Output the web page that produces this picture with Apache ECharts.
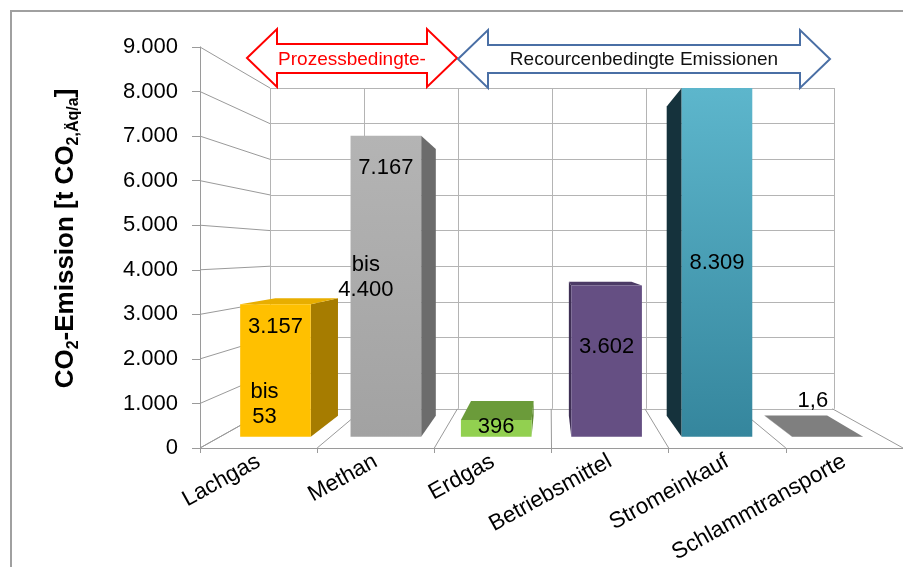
<!DOCTYPE html>
<html>
<head>
<meta charset="utf-8">
<script src="https://cdn.jsdelivr.net/npm/echarts@6/dist/echarts.min.js"></script>
<style>
  html, body { margin: 0; padding: 0; background: #fff; }
  #chart { width: 903px; height: 567px; }
</style>
</head>
<body>
<div id="chart"></div>
<script>
// ---- data ----
const categories = ['Lachgas', 'Methan', 'Erdgas', 'Betriebsmittel', 'Stromeinkauf', 'Schlammtransporte'];
const emissions = [3157, 7167, 396, 3602, 8309, 1.6];
const lowerBounds = [53, 4400, null, null, null, null];
const groupLabels = ['Prozessbedingte-', 'Recourcenbedingte Emissionen'];
const yMax = 9000;
const yStep = 1000;

// ---- layout / perspective ----
const FONT = '"Liberation Sans", Arial, sans-serif';
const FRONT = { left: 200, top: 47, width: 705, height: 401 };
const VP = [550, 252];          // vanishing point
const BACK_S = 0.8;             // scale of the back wall relative to the front plane
const BAR_FRONT = 0.29;         // depth of bar front faces (0 = front, 1 = back wall)
const BAR_BACK = 0.825;         // depth of bar back faces
const BAR_W = 0.64;             // bar width as a share of the category band

const BACK = {
  left: VP[0] + (FRONT.left - VP[0]) * BACK_S,
  top: VP[1] + (FRONT.top - VP[1]) * BACK_S,
  width: FRONT.width * BACK_S,
  height: FRONT.height * BACK_S
};

function proj(p, u) {
  const s = 1 - (1 - BACK_S) * u;
  return [VP[0] + (p[0] - VP[0]) * s, VP[1] + (p[1] - VP[1]) * s];
}

const BAR_STYLE = [
  { front: '#FFC000', side: '#A67C00', top: '#E8AE00' },
  { front: { type: 'linear', x: 0, y: 0, x2: 0, y2: 1, colorStops: [{ offset: 0, color: '#B4B4B4' }, { offset: 1, color: '#A2A2A2' }] }, side: '#6C6C6C', top: '#8E8E8E' },
  { front: '#92D050', side: '#5F8A30', top: '#6B9B3A' },
  { front: '#654F83', side: '#3E2F54', top: '#4C3B66' },
  { front: { type: 'linear', x: 0, y: 0, x2: 0, y2: 1, colorStops: [{ offset: 0, color: '#5DB6CC' }, { offset: 1, color: '#35869D' }] }, side: '#15323C', top: '#2F7589' },
  { front: '#7F7F7F', side: '#6A6A6A', top: '#7F7F7F' }
];
// label anchors: share of the front face height (value label), [dx from face centre, share] (range label)
const VALUE_LABEL_AT = [0.83, 0.894, 0.6, 0.59, 0.497, null];
const RANGE_LABEL_AT = [[-11, 0.24], [-20, 0.53]];

function fmt(v) {
  if (Number.isInteger(v)) return String(v).replace(/\B(?=(\d{3})+(?!\d))/g, '.');
  return String(v).replace('.', ',');
}

const chart = echarts.init(document.getElementById('chart'), null, { renderer: 'canvas' });

function renderBar(params, api) {
  const i = api.value(0), v = api.value(1);
  const base = api.coord([i, 0]);
  const topP = api.coord([i, v]);
  const hw = api.size([1, 0])[0] * BAR_W / 2;
  const xl = base[0] - hw, xr = base[0] + hw, yb = base[1], yt = topP[1];
  const F = (x, y) => proj([x, y], BAR_FRONT);
  const B = (x, y) => proj([x, y], BAR_BACK);
  const c = BAR_STYLE[i];
  const kids = [];
  const poly = (pts, fill) => ({ type: 'polygon', shape: { points: pts }, style: { fill: fill } });
  if (xr < VP[0]) kids.push(poly([F(xr, yb), F(xr, yt), B(xr, yt), B(xr, yb)], c.side));
  if (xl > VP[0]) kids.push(poly([F(xl, yb), F(xl, yt), B(xl, yt), B(xl, yb)], c.side));
  if (yt > VP[1]) kids.push(poly([F(xl, yt), F(xr, yt), B(xr, yt), B(xl, yt)], c.top));
  const f0 = F(xl, yt), f1 = F(xr, yb);
  kids.push({ type: 'rect', shape: { x: f0[0], y: f0[1], width: f1[0] - f0[0], height: Math.max(f1[1] - f0[1], 0.5) }, style: { fill: c.front } });

  const cx = (f0[0] + f1[0]) / 2, h = f1[1] - f0[1];
  const txt = (text, x, y, align, vAlign) => ({
    type: 'text',
    style: { text: text, x: x, y: y, fill: '#000', fontSize: 22, fontFamily: FONT, lineHeight: 25, align: align, verticalAlign: vAlign }
  });
  if (VALUE_LABEL_AT[i] != null) {
    kids.push(txt(fmt(v), cx, f1[1] - h * VALUE_LABEL_AT[i], 'center', 'middle'));
  } else {
    const corner = B(xr, yt);
    kids.push(txt(fmt(v), corner[0] + 1, corner[1] - 2, 'right', 'bottom'));
  }
  if (lowerBounds[i] != null) {
    const at = RANGE_LABEL_AT[i];
    kids.push(txt('bis\n' + fmt(lowerBounds[i]), cx + at[0], f1[1] - h * at[1], 'center', 'middle'));
  }
  return { type: 'group', children: kids };
}

const LINE = '#9A9A9A';

// side wall: one line per value level, from the front axis back to the rear wall
function renderWall(params, api) {
  const v = api.value(1);
  const p = api.coord([0, v]);
  const x = p[0] - api.size([1, 0])[0] / 2;
  const b = proj([x, p[1]], 1);
  return { type: 'line', shape: { x1: x, y1: p[1], x2: b[0], y2: b[1] }, style: { stroke: LINE, lineWidth: 1 } };
}

// floor: band boundaries running from the front edge to the rear wall
function renderFloor(params, api) {
  const k = api.value(0);
  const p = api.coord([k, 0]);
  const w = api.size([1, 0])[0];
  const xs = [p[0] - w / 2];
  if (k === categories.length - 1) xs.push(p[0] + w / 2);
  return {
    type: 'group',
    children: xs.map(x => {
      const b = proj([x, p[1]], 1);
      return { type: 'line', shape: { x1: x, y1: p[1], x2: b[0], y2: b[1] }, style: { stroke: LINE, lineWidth: 1 } };
    })
  };
}

const wallLevels = [];
for (let v = 0; v <= yMax; v += yStep) wallLevels.push([0, v]);

function arrowPoints(x0, x1, top, bottom, sTop, sBottom, head) {
  const ym = (top + bottom) / 2;
  return [[x0, ym], [x0 + head, top], [x0 + head, sTop], [x1 - head, sTop], [x1 - head, top], [x1, ym],
          [x1 - head, bottom], [x1 - head, sBottom], [x0 + head, sBottom], [x0 + head, bottom]];
}

const option = {
  animation: false,
  backgroundColor: '#fff',
  grid: [
    { left: FRONT.left, top: FRONT.top, width: FRONT.width, height: FRONT.height },
    { left: BACK.left, top: BACK.top, width: BACK.width, height: BACK.height }
  ],
  xAxis: [
    {
      type: 'category', gridIndex: 0, data: categories, boundaryGap: true,
      axisLine: { lineStyle: { color: LINE, width: 1 } },
      axisTick: { show: true, length: 5, lineStyle: { color: LINE } },
      axisLabel: { interval: 0, rotate: 29, fontSize: 22.5, fontFamily: FONT, color: '#000', margin: 12 },
      splitLine: { show: false }
    },
    {
      type: 'category', gridIndex: 1, data: categories, boundaryGap: true,
      axisLine: { show: false }, axisTick: { show: false }, axisLabel: { show: false },
      splitLine: { show: true, interval: 0, lineStyle: { color: '#B4B4B4', width: 1 } }
    }
  ],
  yAxis: [
    {
      type: 'value', gridIndex: 0, min: 0, max: yMax, interval: yStep,
      axisLine: { show: true, lineStyle: { color: LINE, width: 1 } },
      axisTick: { show: true, length: 8, lineStyle: { color: LINE } },
      axisLabel: { fontSize: 22, fontFamily: FONT, color: '#000', margin: 22, formatter: v => fmt(v) },
      splitLine: { show: false },
      name: '{m|CO}{s|2}{m|-Emission [t CO}{s|2,Äq/a}{m|]}',
      nameLocation: 'middle', nameGap: 118, nameRotate: 90,
      nameTextStyle: {
        padding: [0, 0, 0, 18],
        rich: {
          m: { fontSize: 26, fontWeight: 'bold', fontFamily: FONT, color: '#000', lineHeight: 32, verticalAlign: 'middle' },
          s: { fontSize: 16, fontWeight: 'bold', fontFamily: FONT, color: '#000', lineHeight: 16, verticalAlign: 'bottom' }
        }
      }
    },
    {
      type: 'value', gridIndex: 1, min: 0, max: yMax, interval: yStep,
      axisLine: { show: false }, axisTick: { show: false }, axisLabel: { show: false },
      splitLine: { show: true, lineStyle: { color: '#B4B4B4', width: 1 } }
    }
  ],
  series: [
    { type: 'custom', name: 'wall', xAxisIndex: 0, yAxisIndex: 0, data: wallLevels, renderItem: renderWall, silent: true, z: 1 },
    { type: 'custom', name: 'floor', xAxisIndex: 0, yAxisIndex: 0, data: categories.map((c, k) => [k, 0]), renderItem: renderFloor, silent: true, z: 1 },
    { type: 'custom', name: 'CO2', xAxisIndex: 0, yAxisIndex: 0, data: emissions.map((v, i) => [i, v]), renderItem: renderBar, z: 3 }
  ],
  graphic: [
    { type: 'rect', shape: { x: 11, y: 11, width: 1000, height: 1000 }, style: { fill: 'none', stroke: '#A0A0A0', lineWidth: 2 }, z: 10 },
    { type: 'polygon', shape: { points: arrowPoints(247, 457, 29, 87, 44, 73, 30) }, style: { fill: '#fff', stroke: '#FF0000', lineWidth: 2 }, z: 10 },
    { type: 'polygon', shape: { points: arrowPoints(458, 830, 30, 88, 45, 73, 30) }, style: { fill: '#fff', stroke: '#4A6FA5', lineWidth: 2 }, z: 10 },
    { type: 'text', x: 352, y: 60, style: { text: groupLabels[0], fill: '#FF0000', fontSize: 19, fontFamily: FONT, align: 'center', verticalAlign: 'middle' }, z: 11 },
    { type: 'text', x: 644, y: 60, style: { text: groupLabels[1], fill: '#111', fontSize: 19, fontFamily: FONT, align: 'center', verticalAlign: 'middle' }, z: 11 }
  ]
};

chart.setOption(option);
</script>
</body>
</html>
